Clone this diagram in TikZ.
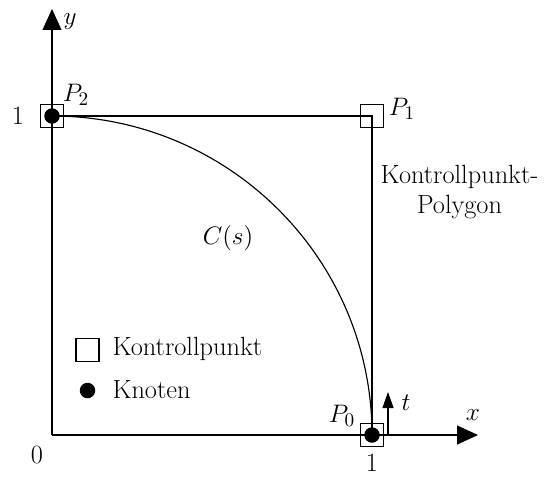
\documentclass[tikz,border=0pt]{standalone}
\usetikzlibrary{arrows.meta}
\begin{document}
\begin{tikzpicture}[x=0.02cm,y=-0.02cm,
  line width=0.65pt,
  every node/.style={font=\fontsize{15}{18}\selectfont},
  lab/.style={inner sep=0pt},
  ctrl/.style={draw,line width=0.6pt,minimum size=0.46cm,inner sep=0pt,fill=none},
  knot/.style={circle,fill=black,minimum size=0.31cm,inner sep=0pt},
  axis/.style={-{Triangle[length=0.42cm,width=0.38cm]}},
  small/.style={-{Triangle[length=0.32cm,width=0.22cm]}}]
\useasboundingbox (0,0) rectangle (550,477);
\coordinate (O) at (52,435);
\coordinate (P0) at (372,435);
\coordinate (P1) at (372,116);
\coordinate (P2) at (52,116);
\coordinate (xend) at (478,435);
\coordinate (yend) at (52,9);
\coordinate (tstart) at (388,435);
\coordinate (tend) at (388,392);
% polygon
\draw (P2) -- (P1) -- (P0);
% axes
\draw[axis] (O) -- (xend);
\draw[axis] (O) -- (yend);
\draw[small] (tstart) -- (tend);
% curve
\draw (P2) arc[start angle=90,end angle=0,x radius=320,y radius=-319];
% markers
\node[ctrl] (m0) at (P0) {};
\node[ctrl] (m1) at (P1) {};
\node[ctrl] (m2) at (P2) {};
\node[knot] (k0) at (P0) {};
\node[knot] (k2) at (P2) {};
% labels
\node[lab] (lx) at (473,415) {$x$};
\node[lab] (ly) at (70,22) {$y$};
\node[lab] (lt) at (406,403) {$t$};
\node[lab] (l0) at (37,455) {0};
\node[lab] (l1x) at (372,463) {1};
\node[lab] (l1y) at (18,116) {1};
\node[lab] (lp0) at (342,416) {$P_0$};
\node[lab] (lp1) at (402,109) {$P_1$};
\node[lab] (lp2) at (76,95) {$P_2$};
\node[lab] (lc) at (228,238) {$C(s)$};
\node[lab,anchor=base] (poly1) at (459.5,183) {Kontrollpunkt-};
\node[lab,anchor=base] (poly2) at (459.5,213) {Polygon};
% legend
\node[ctrl] (legsq) at (87.5,350) {};
\node[lab,anchor=base west] (legsqt) at (112,355) {Kontrollpunkt};
\node[knot] (legdot) at (87.5,390.5) {};
\node[lab,anchor=base west] (legdott) at (112,398) {Knoten};
\end{tikzpicture}
\end{document}
